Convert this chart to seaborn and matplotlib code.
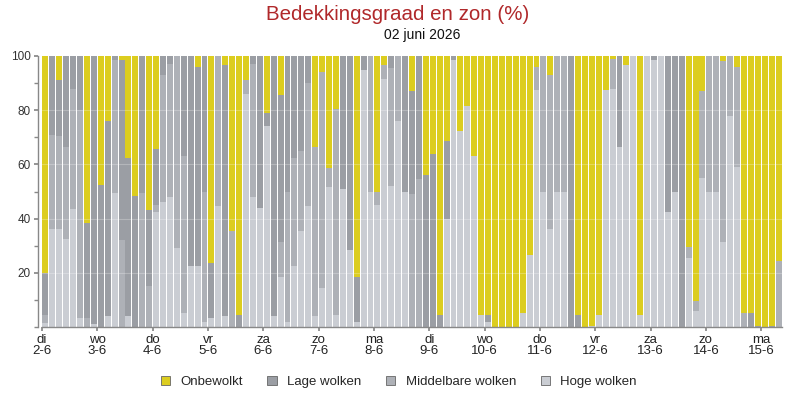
import numpy as np
import pandas as pd
import seaborn as sns
import matplotlib.pyplot as plt
from matplotlib.patches import Patch

# bedekking per blok van 3 uur (%), 2 juni 00u t/m 15 juni 06u
hoge = [1.5, 36, 36, 32.5, 43.5, 3.5, 0, 1, 0, 4, 49.5, 0, 4, 0, 0, 0, 42.5, 46,
        48, 29, 5, 22.5, 22.5, 2, 3.5, 44.5, 4, 0, 0, 86, 48, 44, 74, 4, 18.5, 2,
        22.5, 35.5, 44.5, 4, 14.5, 51.5, 4.5, 51, 28.5, 2, 95, 50, 45, 91.5, 52, 76,
        50, 0, 0, 0, 0, 0, 40, 98.5, 72.5, 81.5, 63, 4.5, 2, 0, 0, 0, 0, 5, 26.5,
        87.5, 50, 36, 50, 50, 0, 0, 0, 0.5, 4.5, 87.5, 88, 66.5, 96.5, 100, 4.5, 100,
        98.5, 100, 42.5, 50, 0, 25.5, 6, 55, 50, 50, 31.5, 78, 59, 0, 0, 0, 0, 0, 0]
middelbaar = [3, 35, 34.5, 34, 44.5, 76.5, 3.5, 0, 0, 0, 49, 32, 0, 0, 49.5, 15, 2.5, 47,
              49, 71, 58, 0, 0, 48, 0, 55.5, 0, 35.5, 0, 5, 49, 0, 0, 0, 13, 48,
              40, 29.5, 45.5, 62.5, 79.5, 7, 76, 0, 0, 0, 0, 50, 5, 5, 43.5, 24,
              0, 49, 54.5, 0, 0, 0, 0, 0, 0, 0, 0, 0, 0, 0, 0, 0, 0, 0, 0,
              8.5, 50, 57, 50, 50, 0, 0, 0, 0, 0, 0, 11, 0, 0, 0, 0, 0,
              0, 0, 0, 0, 0, 4, 3.5, 32, 50, 50, 66.5, 22, 37, 5, 0, 0, 0, 0, 24.5]
lage = [15.5, 29, 20.5, 33.5, 12, 20, 35, 99, 52.5, 72, 1.5, 66.5, 58.5, 48.5, 50.5, 28, 20.5, 7,
        3, 0, 37, 77.5, 73.5, 50, 20, 0, 92.5, 0, 4.5, 0, 3, 56, 5, 96, 54, 50,
        37.5, 35, 10, 0, 0, 0, 0, 49, 71.5, 16.5, 5, 0, 0, 0, 4.5, 0,
        50, 38, 45.5, 56, 64, 4.5, 28.5, 1.5, 0, 0, 0, 0, 2.5, 0, 0, 0, 0, 0, 0,
        0, 0, 0, 0, 0, 100, 4.5, 0, 0, 0, 0, 0, 33.5, 0, 0, 0, 0,
        1.5, 0, 57.5, 50, 100, 0, 0, 0, 0, 0, 0, 0, 0, 0, 5, 0.5, 0, 0.5, 0]
onbewolkt = [80, 0, 9, 0, 0, 0, 61.5, 0, 47.5, 24, 0, 1.5, 37.5, 51.5, 0, 57, 34.5, 0,
             0, 0, 0, 0, 4, 0, 76.5, 0, 3.5, 64.5, 95.5, 9, 0, 0, 21, 0, 14.5, 0,
             0, 0, 0, 33.5, 6, 41.5, 19.5, 0, 0, 81.5, 0, 0, 50, 3.5, 0, 0,
             0, 13, 0, 44, 36, 95.5, 31.5, 0, 27.5, 18.5, 37, 95.5, 95.5, 100, 100, 100, 100, 95, 73.5,
             4, 0, 7, 0, 0, 0, 95.5, 100, 99.5, 95.5, 12.5, 1, 0, 3.5, 0, 95.5, 0,
             0, 0, 0, 0, 0, 70.5, 90.5, 13, 0, 0, 2, 0, 4, 95, 95, 99.5, 100, 99.5, 75.5]

dagen = ['di', 'wo', 'do', 'vr', 'za', 'zo', 'ma', 'di', 'wo', 'do', 'vr', 'za', 'zo', 'ma']
datums = ['2-6', '3-6', '4-6', '5-6', '6-6', '7-6', '8-6', '9-6', '10-6', '11-6',
          '12-6', '13-6', '14-6', '15-6']

soorten = ['Onbewolkt', 'Lage wolken', 'Middelbare wolken', 'Hoge wolken']
kleuren = ['#dccd1f', '#9b9ea4', '#aeb1b7', '#cacdd3']

n = len(hoge)
df = pd.DataFrame({
    'slot': list(range(n)) * 4,
    'soort': np.repeat(soorten, n),
    'pct': onbewolkt + lage + middelbaar + hoge,
})

sns.set_theme(style='white')
plt.rcParams['font.family'] = ['Liberation Sans', 'DejaVu Sans']

fig = plt.figure(figsize=(8, 4), dpi=100)
ax = fig.add_axes([0.0525, 0.1825, 0.925, 0.6775])

# seaborn stapelt de laatste hue onderaan: Hoge wolken onder, Onbewolkt boven
sns.histplot(data=df, x='slot', weights='pct', hue='soort', hue_order=soorten,
             palette=kleuren, multiple='stack', discrete=True, shrink=0.86,
             alpha=1, linewidth=0, edgecolor='none', legend=False, ax=ax)

# vage rasterlijnen over de balken
for y in [20, 40, 60, 80]:
    ax.axhline(y, color='white', alpha=0.25, lw=0.8, zorder=5)

ax.set_xlim(-0.5, n - 0.5)
ax.set_ylim(0, 100)
ax.set_xlabel('')
ax.set_ylabel('')

ax.set_xticks([8 * i - 0.5 for i in range(len(dagen))])
ax.set_xticklabels([f'{d}\n{t}' for d, t in zip(dagen, datums)], fontsize=9.5,
                   color='#222222', linespacing=0.95)
ax.set_yticks([20, 40, 60, 80, 100])
ax.set_yticks(range(0, 101, 10), minor=True)
ax.tick_params(axis='y', which='both', length=3, color='#888888', labelsize=8.5,
               labelcolor='#333333', left=True, pad=2)
ax.tick_params(axis='x', length=3, color='#888888', bottom=True, pad=2)

for s in ['top', 'right']:
    ax.spines[s].set_visible(False)
for s in ['left', 'bottom']:
    ax.spines[s].set_color('#888888')
    ax.spines[s].set_linewidth(1)
ax.spines['left'].set_position(('outward', 3))

fig.text(0.4975, 0.965, 'Bedekkingsgraad en zon (%)', ha='center', va='center',
         fontsize=14.8, color='#b0282a')
fig.text(0.528, 0.9125, '02 juni 2026', ha='center', va='center', fontsize=10,
         color='#111111')

handles = [Patch(facecolor=c, edgecolor='#666666', linewidth=0.6) for c in kleuren]
fig.legend(handles, soorten, loc='center', bbox_to_anchor=(0.4985, 0.045), ncol=4,
           frameon=False, handlelength=0.7, handleheight=0.7, handletextpad=0.8,
           columnspacing=1.85, fontsize=9.5)

plt.savefig('out.png', dpi=100)
